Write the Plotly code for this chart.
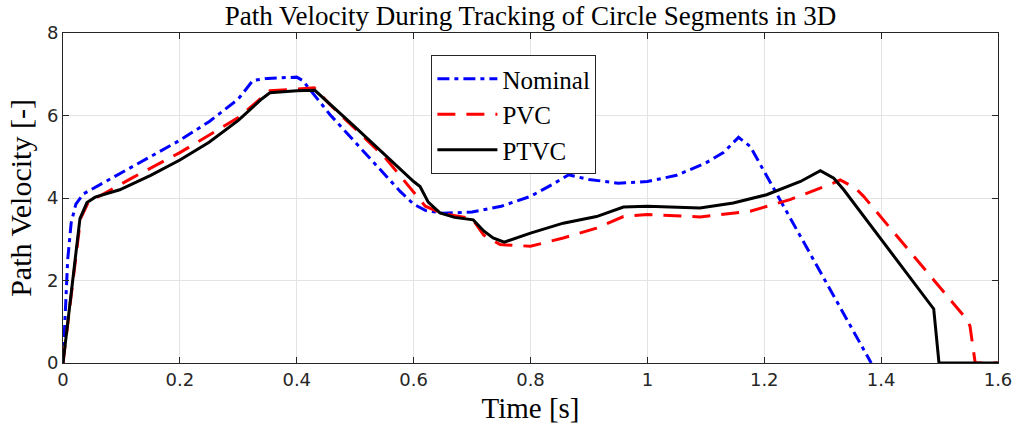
import plotly.graph_objects as go

t_nom = [0, 0.004, 0.008, 0.014, 0.022, 0.035, 0.06, 0.1, 0.15, 0.2, 0.25, 0.3, 0.325, 0.35, 0.4, 0.41,
         0.457, 0.5, 0.577, 0.6, 0.62, 0.65, 0.7, 0.75, 0.8, 0.84, 0.865, 0.9, 0.95, 1.0, 1.05, 1.1, 1.13,
         1.156, 1.176, 1.383]
v_nom = [0, 1.2, 2.5, 3.4, 3.85, 4.1, 4.3, 4.62, 5.0, 5.4, 5.85, 6.4, 6.85, 6.9, 6.93, 6.85,
         6.02, 5.35, 4.16, 3.85, 3.7, 3.63, 3.66, 3.8, 4.04, 4.35, 4.56, 4.45, 4.36, 4.4, 4.55, 4.85, 5.1,
         5.47, 5.25, 0]

t_pvc = [0, 0.03, 0.045, 0.063, 0.12, 0.2, 0.3, 0.354, 0.43, 0.457, 0.55, 0.6, 0.62, 0.65, 0.7, 0.72,
         0.748, 0.8, 0.856, 0.913, 0.959, 1.0, 1.09, 1.176, 1.244, 1.318, 1.33, 1.356, 1.37, 1.547, 1.552,
         1.561, 1.6]
v_pvc = [0, 3.5, 3.95, 4.05, 4.5, 5.1, 5.95, 6.6, 6.67, 6.26, 5.0, 4.15, 3.8, 3.62, 3.5, 3.1,
         2.87, 2.83, 3.03, 3.27, 3.55, 3.6, 3.54, 3.68, 3.96, 4.36, 4.44, 4.24, 4.04, 1.05, 0.9,
         0, 0]

t_ptvc = [0, 0.029, 0.041, 0.055, 0.097, 0.15, 0.2, 0.25, 0.3, 0.34, 0.354, 0.4, 0.431, 0.5, 0.6, 0.611,
          0.625, 0.645, 0.67, 0.702, 0.72, 0.736, 0.755, 0.8, 0.856, 0.913, 0.959, 1.0, 1.09, 1.147, 1.204,
          1.262, 1.296, 1.319, 1.336, 1.49, 1.499, 1.6]
v_ptvc = [0, 3.5, 3.89, 4.02, 4.2, 4.55, 4.92, 5.35, 5.88, 6.4, 6.55, 6.6, 6.61, 5.72, 4.4, 4.28,
          3.9, 3.64, 3.53, 3.47, 3.2, 3.03, 2.93, 3.15, 3.39, 3.55, 3.78, 3.8, 3.76, 3.88, 4.08,
          4.4, 4.66, 4.48, 4.2, 1.31, 0, 0]

x_ticks = [0, 0.2, 0.4, 0.6, 0.8, 1, 1.2, 1.4, 1.6]
x_labels = ["0", "0.2", "0.4", "0.6", "0.8", "1", "1.2", "1.4", "1.6"]
y_ticks = [0, 2, 4, 6, 8]
y_labels = ["0", "2", "4", "6", "8"]

serif = "Liberation Serif, DejaVu Serif, serif"
sans = "DejaVu Sans, Liberation Sans, sans-serif"

fig = go.Figure()
fig.add_trace(go.Scatter(x=t_nom, y=v_nom, mode="lines", name="Nominal",
                         line=dict(color="#0000ff", width=3, dash="12px,5px,4px,5px")))
fig.add_trace(go.Scatter(x=t_pvc, y=v_pvc, mode="lines", name="PVC",
                         line=dict(color="#ff0000", width=3, dash="18px,11px")))
fig.add_trace(go.Scatter(x=t_ptvc, y=v_ptvc, mode="lines", name="PTVC",
                         line=dict(color="#000000", width=3)))

axis_common = dict(showgrid=True, gridcolor="#e3e3e3", gridwidth=1, zeroline=False,
                   showline=True, linecolor="#262626", linewidth=1, mirror="ticks",
                   ticks="inside", ticklen=6, tickcolor="#262626", automargin=False,
                   tickfont=dict(family=sans, size=18, color="#262626"))

fig.update_layout(
    width=1016, height=434,
    margin=dict(l=63, r=18, t=33, b=71),
    paper_bgcolor="white", plot_bgcolor="white",
    title=dict(text="Path Velocity During Tracking of Circle Segments in 3D",
               font=dict(family=serif, size=27, color="black"),
               x=0.5, xanchor="center", xref="paper", y=0.965, yanchor="middle"),
    xaxis=dict(range=[0, 1.6], tickvals=x_ticks, ticktext=x_labels,
               title=dict(text="Time [s]", font=dict(family=serif, size=29, color="black"), standoff=9),
               **axis_common),
    yaxis=dict(range=[0, 8], tickvals=y_ticks, ticktext=y_labels,
               title=dict(text="Path Velocity [-]", font=dict(family=serif, size=30, color="black"), standoff=6),
               **axis_common),
    legend=dict(x=0.394, y=0.933, xanchor="left", yanchor="top",
                bgcolor="white", bordercolor="#262626", borderwidth=1,
                font=dict(family=serif, size=25, color="black"),
                tracegroupgap=0, itemwidth=60),
    showlegend=True,
)

fig.write_html("out.html")
